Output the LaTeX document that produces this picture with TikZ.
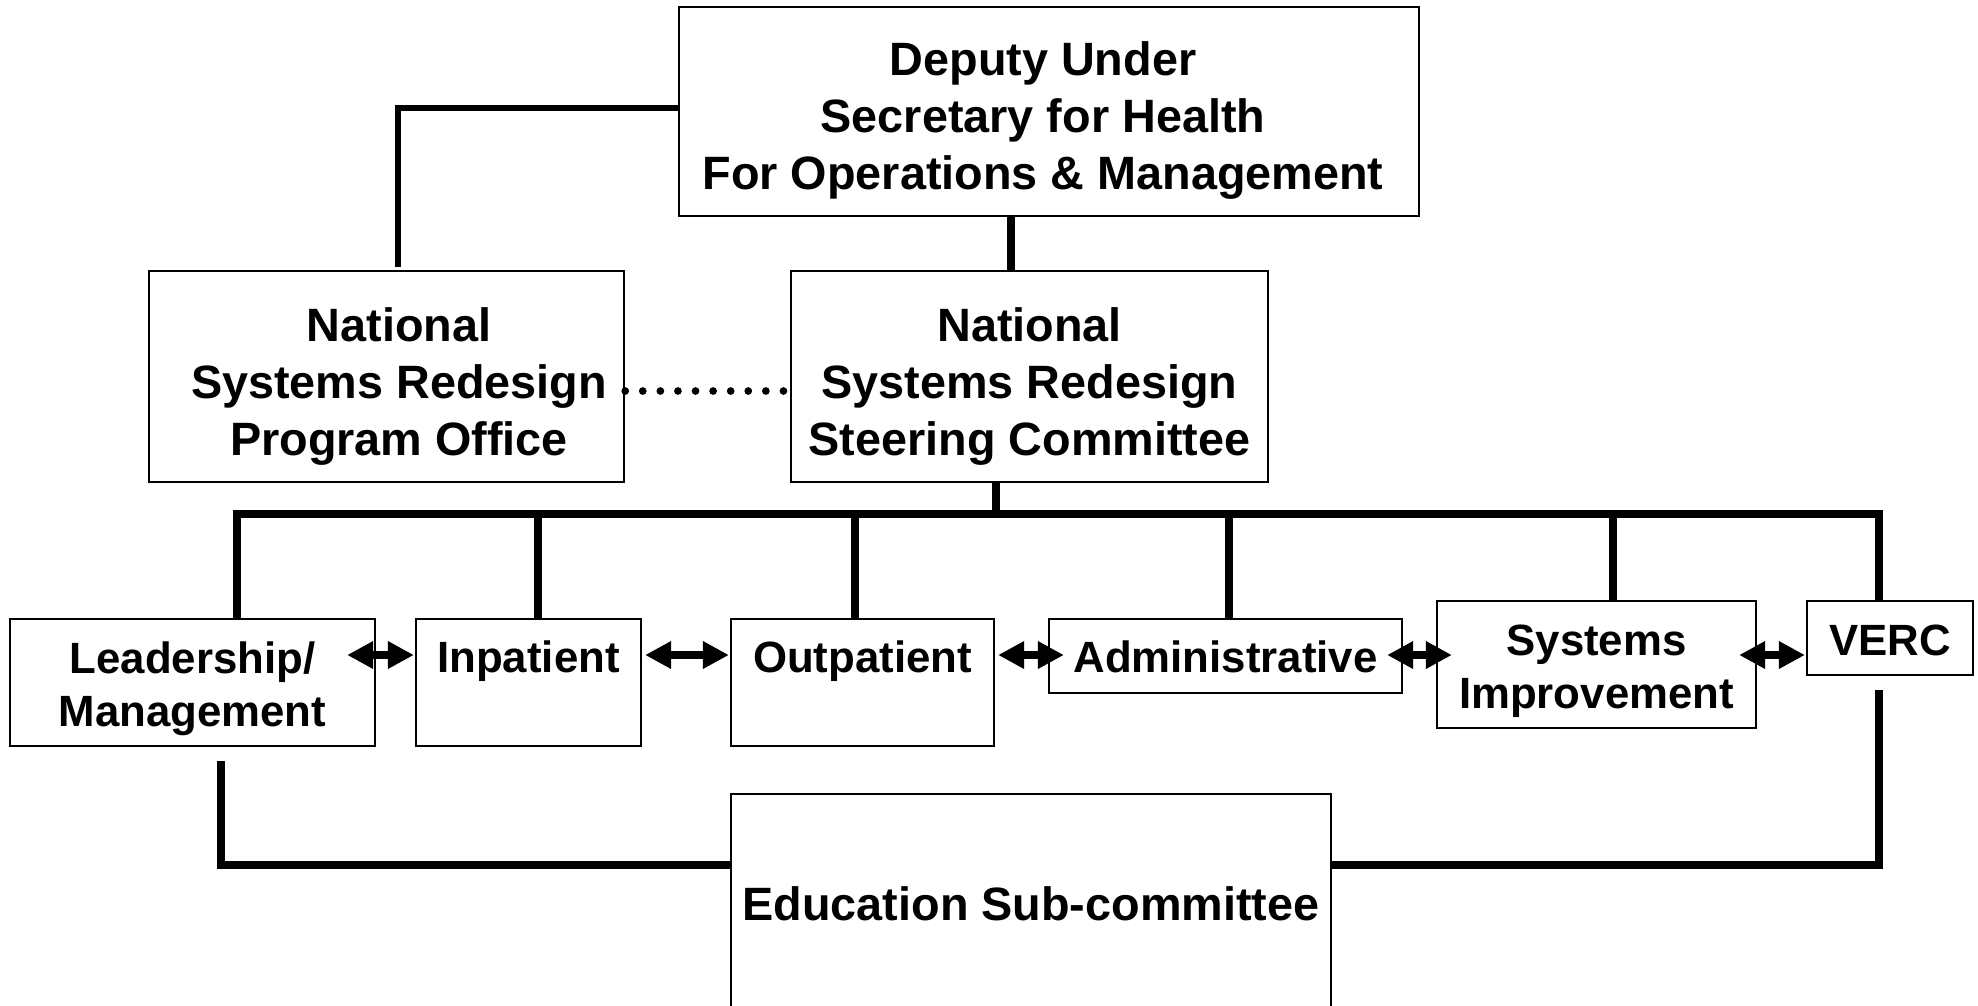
\documentclass[tikz,border=0pt]{standalone}
\usepackage{fontspec}
\setmainfont{Liberation Sans}
\usetikzlibrary{arrows.meta,calc}
\begin{document}
\begin{tikzpicture}[x=0.01cm,y=-0.01cm,
  box/.style={draw, line width=0.6pt, inner sep=0pt},
  txt/.style={inner sep=0pt, align=center, font=\bfseries\fontsize{13.3}{16.1}\selectfont},
  stxt/.style={txt, font=\bfseries\fontsize{12.45}{15.1}\selectfont},
  conn/.style={line width=2.3pt},
  tconn/.style={line width=1.7pt},
  mconn/.style={line width=2.5pt},
  dbl/.style={line width=2.3pt, {Triangle[length=7.4pt,width=7.4pt]}-{Triangle[length=7.4pt,width=7.4pt]}},
  dots/.style={line width=2.2pt, line cap=round, dash pattern=on 0pt off 5pt}]
\clip (0,0) rectangle (1978,1005);
\fill[white] (0,0) rectangle (1978,1005);
% boxes
\node[box, minimum width=7.40cm, minimum height=2.09cm] (dus) at (1049,111.5) {};
\node[box, minimum width=4.75cm, minimum height=2.11cm] (po) at (386.5,376.5) {};
\node[box, minimum width=4.77cm, minimum height=2.11cm] (sc) at (1029.5,376.5) {};
\node[box, minimum width=3.65cm, minimum height=1.27cm] (lm) at (192.5,682.5) {};
\node[box, minimum width=2.25cm, minimum height=1.27cm] (ip) at (528.5,682.5) {};
\node[box, minimum width=2.63cm, minimum height=1.27cm] (op) at (862.5,682.5) {};
\node[box, minimum width=3.53cm, minimum height=0.74cm] (ad) at (1225.5,656) {};
\node[box, minimum width=3.19cm, minimum height=1.27cm] (si) at (1596.5,664.5) {};
\node[box, minimum width=1.66cm, minimum height=0.74cm] (ve) at (1890,638) {};
\node[box, minimum width=6.00cm, minimum height=2.14cm] (ed) at (1031,901) {};
% texts
\node[txt] (dust) at ($(dus)+(-6,9)$) {Deputy Under\\Secretary for Health\\For Operations \& Management};
\node[txt] (pot) at ($(po)+(12.5,10)$) {National\\Systems Redesign\\Program Office};
\node[txt] (sct) at ($(sc)+(0,10)$) {National\\Systems Redesign\\Steering Committee};
\node[stxt] (lmt) at ($(lm)+(0,6)$) {Leadership/\\Management};
\node[stxt] (ipt) at ($(ip)+(0,1)$) {Inpatient\\\mbox{}};
\node[stxt] (opt) at ($(op)+(0,1)$) {Outpatient\\\mbox{}};
\node[stxt] (adt) at ($(ad)+(0,1)$) {Administrative};
\node[stxt] (sit) at ($(si)+(0,7)$) {Systems\\Improvement};
\node[stxt] (vet) at ($(ve)+(0,2.5)$) {VERC};
\node[txt] (edt) at ($(ed)+(0,2.5)$) {Education Sub-committee};
% named junctions
\coordinate (bl) at (237,514);
\coordinate (br) at (1879,514);
\coordinate (bot) at (0,865);
\coordinate (arow) at (0,655);
\coordinate (vx) at (1011,0);
\coordinate (lx) at (398,0);
% top connectors
\draw[tconn] ([yshift=0.035cm]dus.west) -| ([yshift=0.03cm]po.north -| lx);
\draw[mconn] (dus.south -| vx) -- (sc.north -| vx);
\draw[dots] ([yshift=-0.145cm]po.east) -- ([yshift=-0.145cm]sc.west);
% bus
\draw[conn] ([xshift=-0.335cm]sc.south) -- ([xshift=-0.335cm]sc.south |- bl);
\draw[conn] (lm.north -| bl) |- (br) -- (ve.north -| br);
\draw[conn] ([xshift=0.095cm]ip.north) -- ([xshift=0.095cm]ip.north |- bl);
\draw[conn] ([xshift=-0.075cm]op.north) -- ([xshift=-0.075cm]op.north |- bl);
\draw[conn] ([xshift=0.035cm]ad.north) -- ([xshift=0.035cm]ad.north |- bl);
\draw[conn] ([xshift=0.165cm]si.north) -- ([xshift=0.165cm]si.north |- bl);
% bottom connectors
\draw[conn] ([xshift=0.285cm,yshift=-0.14cm]lm.south) |- (ed.west |- bot);
\draw[conn] ([yshift=-0.14cm]ve.south -| br) |- (ed.east |- bot);
% double arrows
\draw[dbl, shorten <=-0.29cm, shorten >=0.01cm] (lm.east |- arow) -- (ip.west |- arow);
\draw[dbl, shorten <=0.03cm, shorten >=0.01cm] (ip.east |- arow) -- (op.west |- arow);
\draw[dbl, shorten <=0.03cm, shorten >=-0.16cm] (op.east |- arow) -- (ad.west |- arow);
\draw[dbl, shorten <=-0.16cm, shorten >=-0.16cm] (ad.east |- arow) -- (si.west |- arow);
\draw[dbl, shorten <=-0.18cm, shorten >=0.01cm] (si.east |- arow) -- (ve.west |- arow);
\end{tikzpicture}
\end{document}
